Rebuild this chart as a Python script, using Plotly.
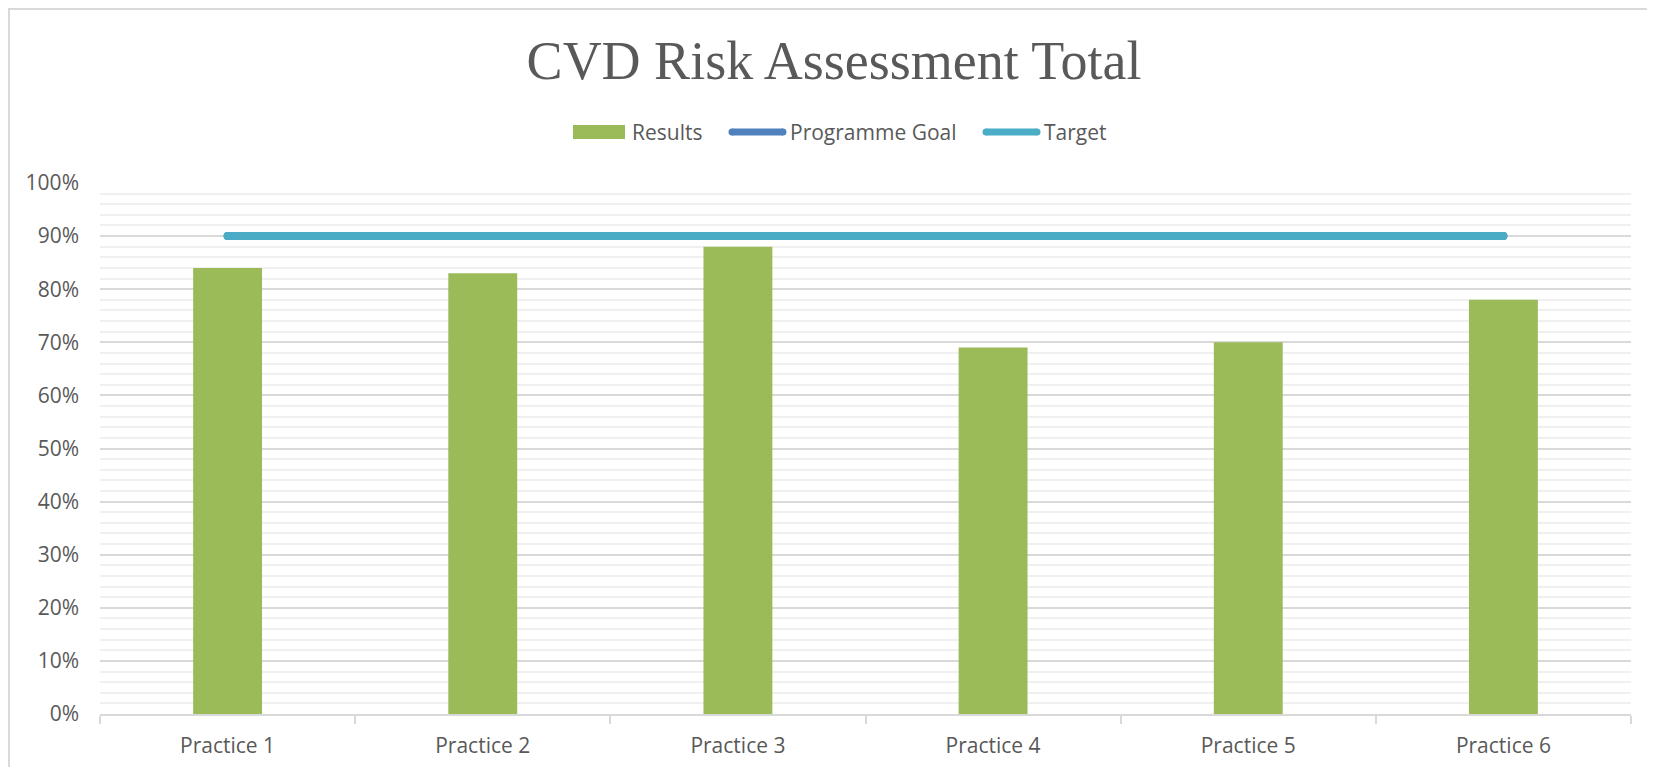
import plotly.graph_objects as go

practices = ["Practice 1", "Practice 2", "Practice 3", "Practice 4", "Practice 5", "Practice 6"]
results = [0.84, 0.83, 0.88, 0.69, 0.70, 0.78]
programme_goal = [0.90, 0.90, 0.90, 0.90, 0.90, 0.90]
target = [0.90, 0.90, 0.90, 0.90, 0.90, 0.90]
y_ticks = [0.0, 0.1, 0.2, 0.3, 0.4, 0.5, 0.6, 0.7, 0.8, 0.9, 1.0]

GREEN = "#9BBB59"
BLUE = "#4F81BD"
TEAL = "#4BACC6"
TEXT = "#595959"
GRID = "#d9d9d9"

# the page body has an 8px margin, so the figure is sized to fit inside it
OFF = 8
W, H = 1639, 759
L, R, T, B = 92, 16, 175, 53


def px(x):
    # page x (pixels) -> paper coordinate
    return (x - OFF - L) / (W - L - R)


def py(y):
    # page y (pixels) -> paper coordinate
    return (H - B - (y - OFF)) / (H - T - B)


fig = go.Figure()
fig.add_trace(go.Bar(
    x=practices, y=results, name="Results",
    marker=dict(color=GREEN, line=dict(width=0)),
    width=0.27,
))
fig.add_trace(go.Scatter(
    x=practices, y=programme_goal, name="Programme Goal",
    mode="lines+markers", line=dict(color=BLUE, width=8),
    marker=dict(color=BLUE, size=8),
))
fig.add_trace(go.Scatter(
    x=practices, y=target, name="Target",
    mode="lines+markers", line=dict(color=TEAL, width=8),
    marker=dict(color=TEAL, size=8),
))

# outer chart border (left/top visible in the original)
fig.add_shape(type="rect", xref="paper", yref="paper",
              x0=px(9), x1=px(1700), y0=py(800), y1=py(9),
              line=dict(color=GRID, width=2), layer="below")

# legend, drawn by hand so the symbols match the original's wide swatches
legend_items = [
    ("Results", GREEN, "box", 573, 625, 630),
    ("Programme Goal", BLUE, "line", 729, 786, 788),
    ("Target", TEAL, "line", 983, 1040, 1042),
]
ly = 132
for name, colour, kind, x0, x1, tx in legend_items:
    if kind == "box":
        fig.add_shape(type="rect", xref="paper", yref="paper",
                      x0=px(x0), x1=px(x1), y0=py(ly + 7), y1=py(ly - 7),
                      fillcolor=colour, line=dict(width=0))
    else:
        fig.add_shape(type="line", xref="paper", yref="paper",
                      x0=px(x0 + 3), x1=px(x1 - 3), y0=py(ly), y1=py(ly),
                      line=dict(color=colour, width=7))
        for cx in (x0 + 3, x1 - 3):
            fig.add_shape(type="circle", xref="paper", yref="paper",
                          x0=px(cx - 3.5), x1=px(cx + 3.5),
                          y0=py(ly + 3.5), y1=py(ly - 3.5),
                          fillcolor=colour, line=dict(width=0))
    fig.add_annotation(text=name, xref="paper", yref="paper",
                       x=px(tx), y=py(ly), xanchor="left", yanchor="middle",
                       showarrow=False, font=dict(size=21, color=TEXT))

fig.update_layout(
    width=W, height=H,
    margin=dict(l=L, r=R, t=T, b=B),
    paper_bgcolor="white", plot_bgcolor="white",
    title=dict(text="CVD Risk Assessment Total", x=(834 - OFF) / W, xanchor="center",
               y=1 - (60 - OFF) / H, yanchor="middle",
               font=dict(family="Liberation Serif", size=54, color=TEXT)),
    font=dict(family="Open Sans", color=TEXT, size=21),
    showlegend=False,
    bargap=0.73,
)
fig.update_xaxes(
    showgrid=False, showline=True, linecolor=GRID, linewidth=2,
    ticks="outside", tickson="boundaries", ticklen=8, tickcolor=GRID, tickwidth=2,
    tickfont=dict(size=21, color=TEXT), ticklabelstandoff=12, automargin=False,
)
fig.update_yaxes(
    range=[0, 1.0], tickvals=y_ticks, tickformat=".0%",
    showgrid=True, gridcolor=GRID, gridwidth=2,
    minor=dict(dtick=0.02, showgrid=True, gridcolor="#f0f0f0", gridwidth=2),
    showline=False, zeroline=False, ticks="", ticklabelstandoff=20,
    tickfont=dict(size=21, color=TEXT), automargin=False,
)

fig.write_html("out.html")
